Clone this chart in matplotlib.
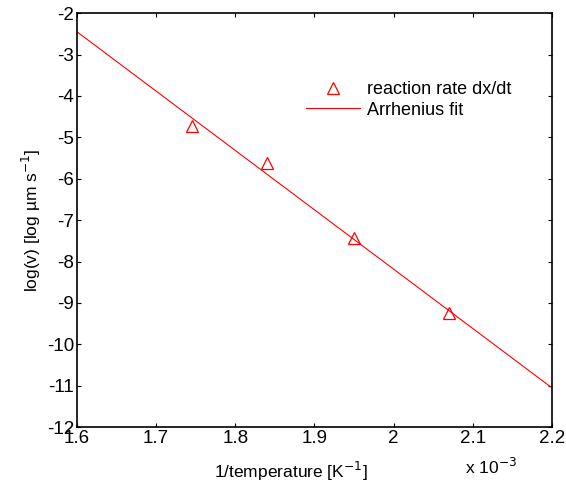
import matplotlib
matplotlib.use("Agg")
import matplotlib.pyplot as plt

plt.rcParams["font.family"] = ["Liberation Sans", "DejaVu Sans"]
plt.rcParams["axes.unicode_minus"] = False

# inverse temperature in units of 1e-3 K^-1
inv_T = [1.745, 1.84, 1.95, 2.07]
log_rate = [-4.72, -5.62, -7.42, -9.25]
fit_x = [1.6, 2.2]
fit_y = [-2.45, -11.05]
xticks = [1.6, 1.7, 1.8, 1.9, 2.0, 2.1, 2.2]
xticklabels = ["1.6", "1.7", "1.8", "1.9", "2", "2.1", "2.2"]
yticks = list(range(-12, -1))

fig = plt.figure(figsize=(5.66, 4.87), dpi=100)
ax = fig.add_axes([0.136, 0.123, 0.839, 0.850])

ax.plot(inv_T, log_rate, "^", mfc="none", mec="red", ms=9, mew=0.9,
        ls="none", label="reaction rate dx/dt")
ax.plot(fit_x, fit_y, "-", color="red", lw=0.8, label="Arrhenius fit")

ax.set_xlim(1.6, 2.2)
ax.set_ylim(-12, -2)
ax.set_xticks(xticks)
ax.set_xticklabels(xticklabels)
ax.set_yticks(yticks)
ax.tick_params(direction="in", length=3, width=0.8, labelsize=13.5,
               top=True, right=True, pad=2)
for s in ax.spines.values():
    s.set_linewidth(1.2)

ax.set_xlabel("1/temperature [K$^{-1}$]", fontsize=12.5, labelpad=5)
ax.xaxis.set_label_coords(0.45, -0.08)
ax.set_ylabel("log(v) [log µm s$^{-1}$]", fontsize=12.5, labelpad=3)
fig.text(0.822, 0.02, "x 10$^{-3}$", fontsize=12.5, ha="left", va="bottom")

ax.legend(loc="upper right", bbox_to_anchor=(0.95, 0.875), frameon=False,
          fontsize=13, handlelength=3, handletextpad=0.4, labelspacing=0.2)

fig.savefig("out.png", dpi=100)
